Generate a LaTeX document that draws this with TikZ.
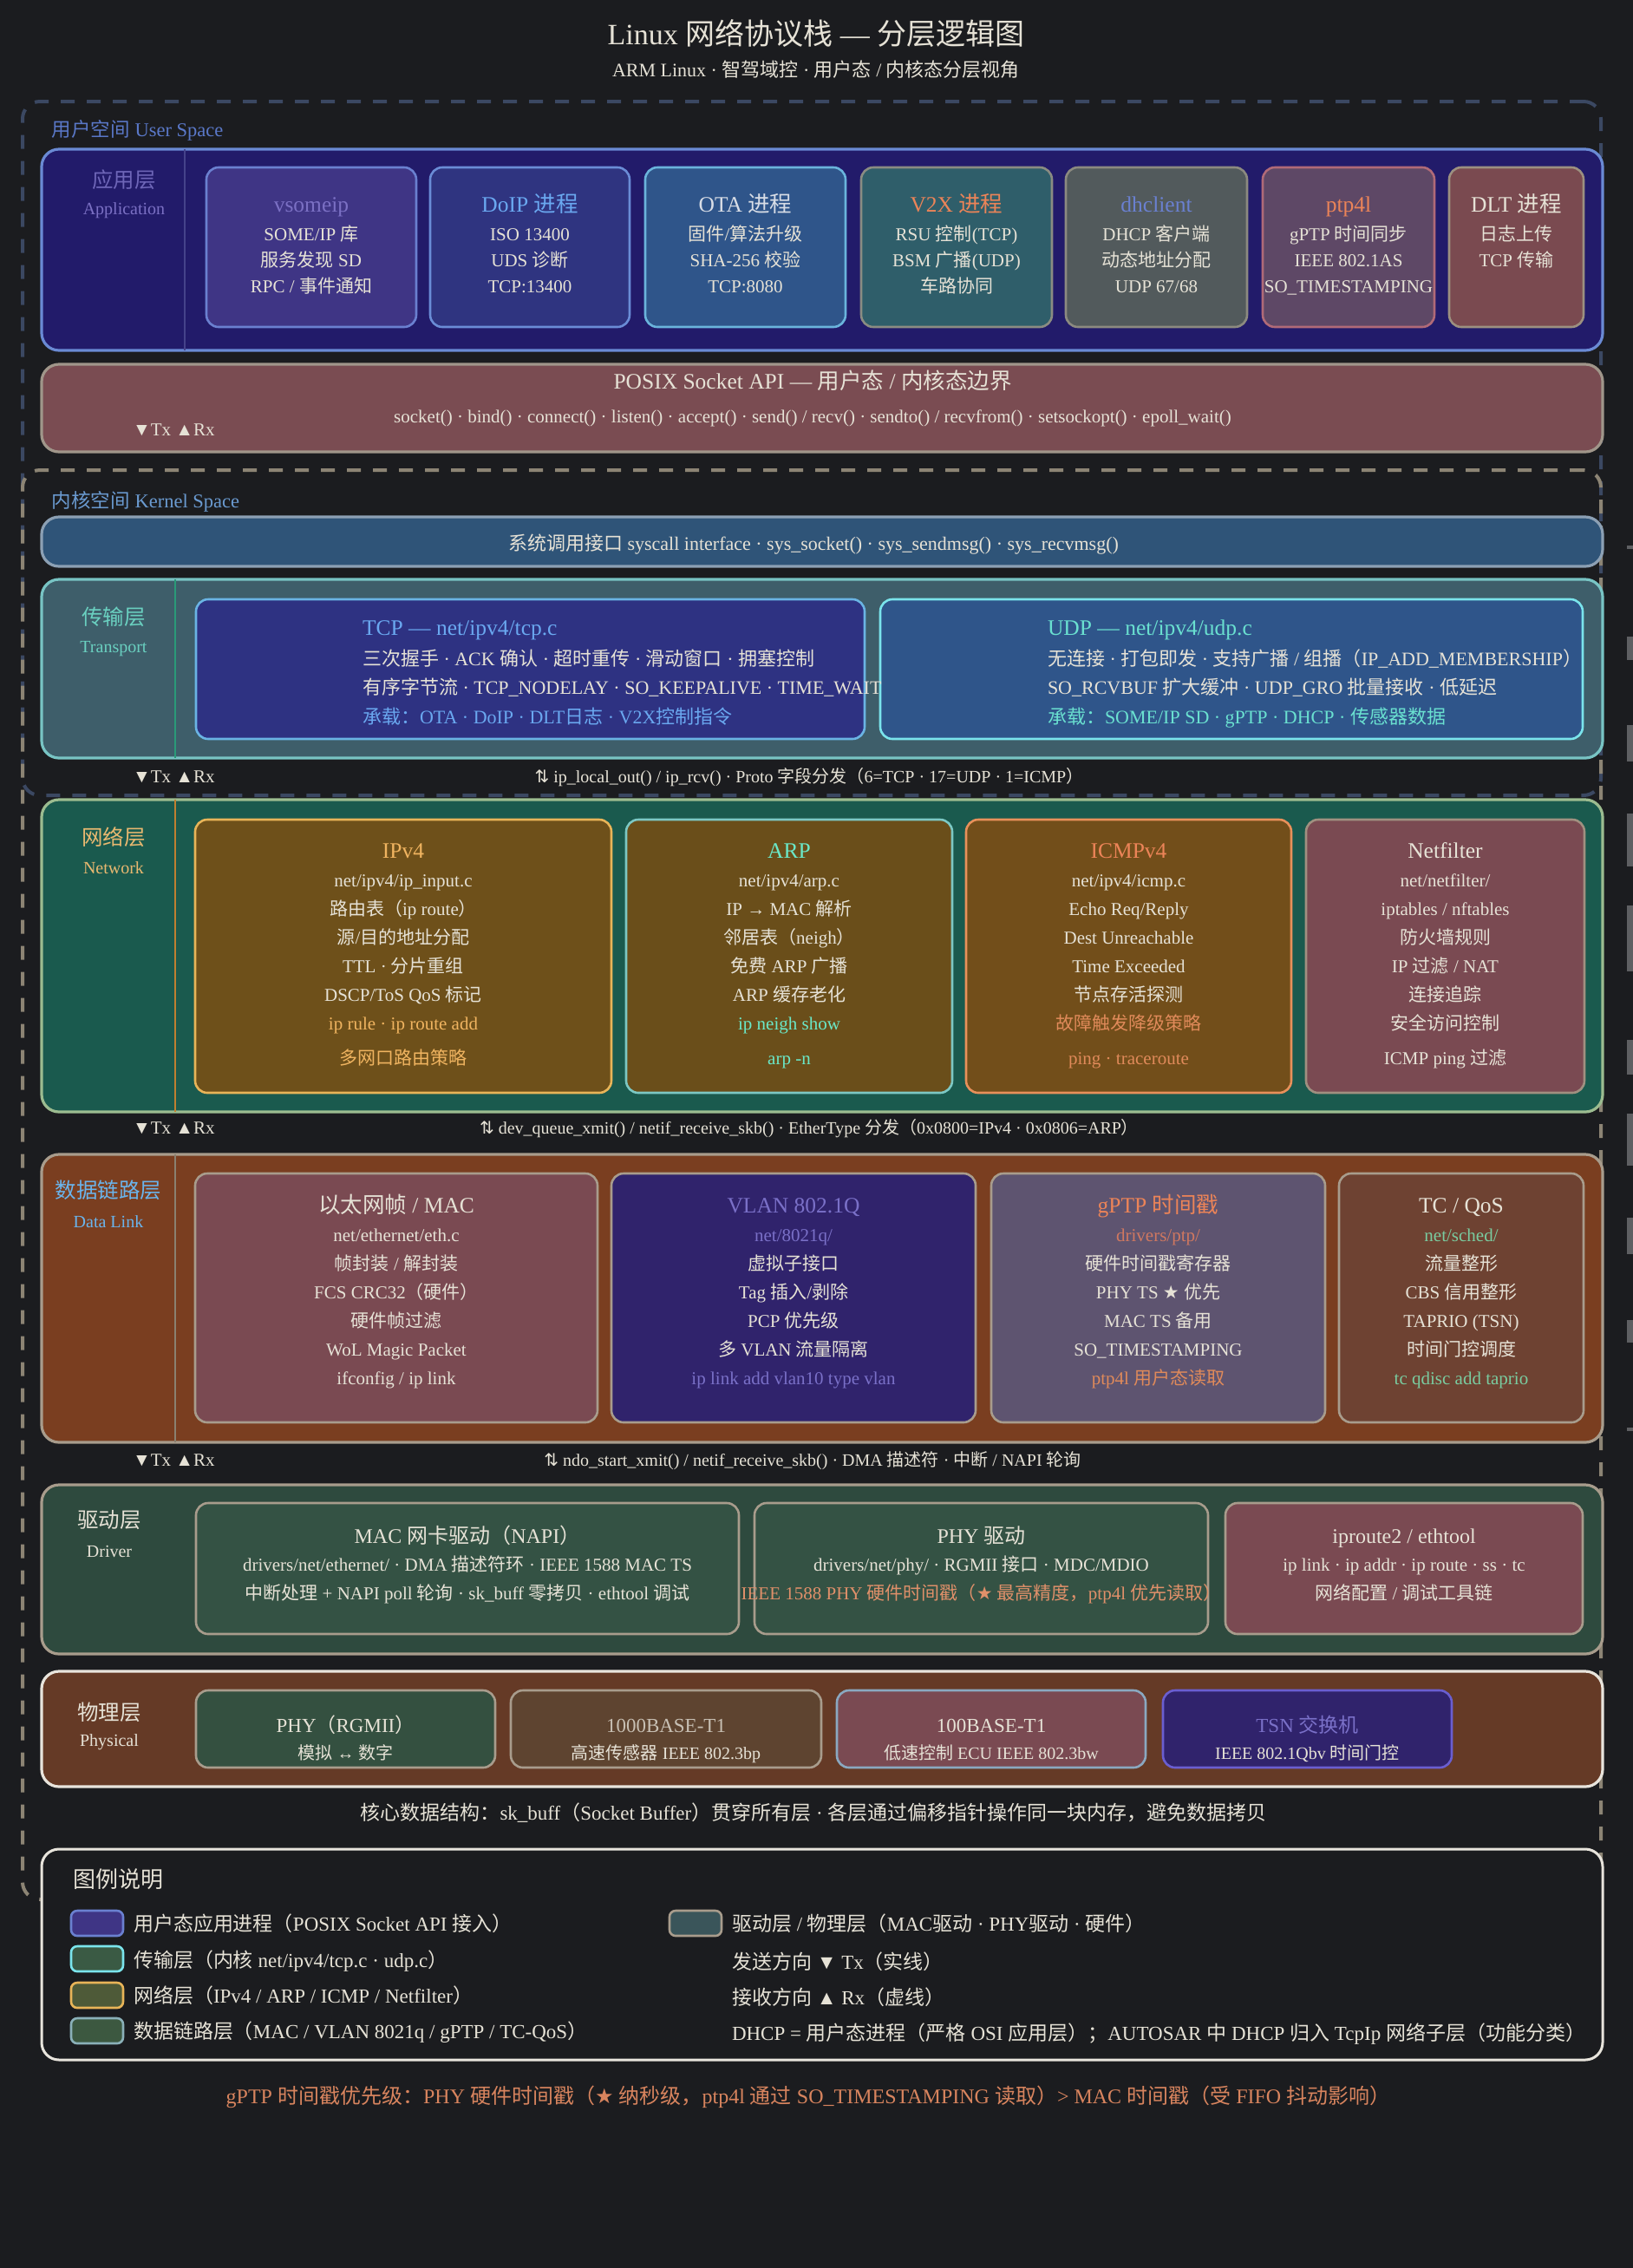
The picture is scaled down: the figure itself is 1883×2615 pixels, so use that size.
\documentclass[tikz,border=0pt]{standalone}
\usepackage{fontspec}
\setmainfont{Liberation Serif}
\newfontfamily\cjkf{Noto Sans CJK SC}
\newfontfamily\symf{DejaVu Sans}
\usetikzlibrary{calc}
% --- automatic CJK font switching ---
\XeTeXinterchartokenstate=1
\chardef\cjkcls=9
\newcount\cc
\cc=0 \loop \XeTeXcharclass\cc=0 \advance\cc 1 \ifnum\cc<"3000 \repeat
\cc="3000 \loop \XeTeXcharclass\cc=\cjkcls \advance\cc 1 \ifnum\cc<"3040 \repeat
\cc="4E00 \loop \XeTeXcharclass\cc=\cjkcls \advance\cc 1 \ifnum\cc<"A000 \repeat
\cc="FF00 \loop \XeTeXcharclass\cc=\cjkcls \advance\cc 1 \ifnum\cc<"FFF0 \repeat
\XeTeXinterchartoks 0 \cjkcls={\cjkf}
\XeTeXinterchartoks 4095 \cjkcls={\cjkf}
\XeTeXinterchartoks \cjkcls 0={\rmfamily}
\XeTeXinterchartoks \cjkcls 4095={\rmfamily}
% --- colours ---
\definecolor{bg}{HTML}{1B1C1F}
\definecolor{cTxt}{HTML}{E6E2D6}
\definecolor{cUser}{HTML}{3B4862}
\definecolor{cKern}{HTML}{8C8474}
\definecolor{cUserT}{HTML}{5A78C8}
\definecolor{cKernT}{HTML}{6A9AD0}
\definecolor{appF}{HTML}{221B6A}
\definecolor{appB}{HTML}{6A8AD4}
\definecolor{appDiv}{HTML}{45438A}
\definecolor{appL}{HTML}{6E66B8}
\definecolor{vsF}{HTML}{3F3585}
\definecolor{vsB}{HTML}{6A80D0}
\definecolor{vsT}{HTML}{7B70C4}
\definecolor{doF}{HTML}{2F3480}
\definecolor{doB}{HTML}{6A8CD6}
\definecolor{doT}{HTML}{6AA8F0}
\definecolor{otF}{HTML}{2F558A}
\definecolor{otB}{HTML}{6AB4DC}
\definecolor{otT}{HTML}{D8DDE6}
\definecolor{v2F}{HTML}{2F5E6A}
\definecolor{v2B}{HTML}{8A8C82}
\definecolor{orT}{HTML}{EC8458}
\definecolor{dhF}{HTML}{525A5C}
\definecolor{dhB}{HTML}{8C8A80}
\definecolor{dhT}{HTML}{6A80D0}
\definecolor{ptF}{HTML}{5E4866}
\definecolor{ptB}{HTML}{B06A78}
\definecolor{dlF}{HTML}{7A4A50}
\definecolor{dlB}{HTML}{9C9080}
\definecolor{sockF}{HTML}{7A4C52}
\definecolor{sockB}{HTML}{A0968A}
\definecolor{sysF}{HTML}{2F5478}
\definecolor{sysB}{HTML}{8CA0B4}
\definecolor{trF}{HTML}{3E5E6A}
\definecolor{trB}{HTML}{78C4C4}
\definecolor{trDiv}{HTML}{2A9A78}
\definecolor{trL}{HTML}{6AD0C0}
\definecolor{tcpF}{HTML}{2E3282}
\definecolor{tcpB}{HTML}{6AB4E4}
\definecolor{tcpT}{HTML}{6AA8F0}
\definecolor{udpF}{HTML}{2F558A}
\definecolor{udpB}{HTML}{7AE4EC}
\definecolor{udpT}{HTML}{6AE0D0}
\definecolor{nwF}{HTML}{1A5A4E}
\definecolor{nwB}{HTML}{9CBC90}
\definecolor{nwDiv}{HTML}{C08030}
\definecolor{nwL}{HTML}{E8B870}
\definecolor{ipF}{HTML}{6E501A}
\definecolor{ipB}{HTML}{E8B458}
\definecolor{ipT}{HTML}{F0B460}
\definecolor{arF}{HTML}{6A4E1A}
\definecolor{arB}{HTML}{7CC8C4}
\definecolor{arT}{HTML}{6AE8C8}
\definecolor{icF}{HTML}{724E1A}
\definecolor{icB}{HTML}{E8905A}
\definecolor{icO}{HTML}{E08A5A}
\definecolor{nfF}{HTML}{7A4A52}
\definecolor{nfB}{HTML}{A09080}
\definecolor{dkF}{HTML}{7A3E20}
\definecolor{dkB}{HTML}{A89C8C}
\definecolor{dkDiv}{HTML}{8A8070}
\definecolor{dkL}{HTML}{6AB4EC}
\definecolor{ethF}{HTML}{7A4A52}
\definecolor{vlF}{HTML}{30236C}
\definecolor{vlT}{HTML}{7A70C8}
\definecolor{gpF}{HTML}{5E5470}
\definecolor{gpS}{HTML}{D07860}
\definecolor{tcF}{HTML}{6E4232}
\definecolor{tcT}{HTML}{7ACCA0}
\definecolor{drF}{HTML}{2E4A3E}
\definecolor{drsF}{HTML}{345244}
\definecolor{drO}{HTML}{E0906A}
\definecolor{phF}{HTML}{653A26}
\definecolor{phB}{HTML}{E8E4DC}
\definecolor{p1F}{HTML}{345040}
\definecolor{p2F}{HTML}{5E4430}
\definecolor{p2T}{HTML}{C8C0B4}
\definecolor{p3B}{HTML}{8AA8C0}
\definecolor{p4B}{HTML}{6A5ED0}
\definecolor{footO}{HTML}{D8845E}
\definecolor{sw2F}{HTML}{3A5A44}
\definecolor{sw3F}{HTML}{4E5A38}
\definecolor{sw4F}{HTML}{3C5840}
\definecolor{sw4B}{HTML}{8AB0B8}
\definecolor{sw5F}{HTML}{3A555A}
\definecolor{edgeG}{HTML}{5E5F62}
% --- helpers ---
\newcommand\mkbox[6]{\node[#2,anchor=north west,inner sep=0pt,outer sep=0pt,minimum width={(#5-#3)*0.5pt},minimum height={(#6-#4)*0.5pt}] (#1) at (#3,#4) {};}
\newcommand\mklines[6]{\foreach \tx [count=\ii] in {#6}{\node[t,#1] (#2-\ii) at ({#3},{#4+(\ii-1)*#5}) {\tx};}}
\begin{document}
\begin{tikzpicture}[x=0.5pt,y=-0.5pt,
  t/.style={anchor=base,inner sep=0pt,outer sep=0pt,text=cTxt},
  tw/.style={t,anchor=base west},
  fb/.style={font=\fontsize{10.5pt}{12pt}\selectfont},
  fbt/.style={font=\fontsize{11pt}{13pt}\selectfont},
  ft/.style={font=\fontsize{12.75pt}{15pt}\selectfont},
  fl/.style={font=\fontsize{12.25pt}{14pt}\selectfont},
  fsl/.style={font=\fontsize{10pt}{12pt}\selectfont},
  fc/.style={font=\fontsize{10pt}{12pt}\selectfont},
  lay/.style={draw,line width=1.6pt,rounded corners=10pt},
  sub/.style={draw,line width=1.3pt,rounded corners=7pt},
  dashbox/.style={draw,line width=2pt,dash pattern=on 8pt off 7pt,rounded corners=10pt},
  swatch/.style={draw,line width=1.3pt,rounded corners=3.5pt},
]
\fill[bg] (0,0) rectangle (1883,2615);
\useasboundingbox (0,0) rectangle (1883,2615);

% grey marks on the right edge
\foreach \ya/\yb in {629/633,734/761,836/878,938/999,1044/1120,1199/1239,1284/1344,1404/1446,1522/1548,1646/1650}
  \fill[edgeG] (1876,\ya) rectangle (1883,\yb);

% title
\node[t,font=\fontsize{17pt}{20pt}\selectfont] (title) at (941,51) {Linux 网络协议栈 — 分层逻辑图};
\node[t,font=\fontsize{11pt}{13pt}\selectfont] (subtitle) at (941,88) {ARM Linux · 智驾域控 · 用户态 / 内核态分层视角};

% dashed containers
\mkbox{userspace}{dashbox,draw=cUser}{26}{117}{1846}{917}
\mkbox{kernelspace}{dashbox,draw=cKern}{26}{542}{1846}{2190}
\node[tw,font=\fontsize{11.25pt}{13pt}\selectfont,text=cUserT] (ulabel) at (60,157) {用户空间 User Space};
\node[tw,font=\fontsize{11.25pt}{13pt}\selectfont,text=cKernT] (klabel) at (60,585) {内核空间 Kernel Space};

% ===== Application layer =====
\mkbox{app}{lay,fill=appF,draw=appB}{48}{172}{1848}{404}
\draw[appDiv,line width=1pt] (213,172) -- (213,404);
\node[t,fl,text=appL] (app-l1) at (143,216) {应用层};
\node[t,fsl,text=vsT] (app-l2) at (143,247) {Application};
\mkbox{vs}{sub,fill=vsF,draw=vsB}{238}{193}{480}{377}
\mkbox{doip}{sub,fill=doF,draw=doB}{496}{193}{726}{377}
\mkbox{ota}{sub,fill=otF,draw=otB}{744}{193}{975}{377}
\mkbox{v2x}{sub,fill=v2F,draw=v2B}{993}{193}{1213}{377}
\mkbox{dhc}{sub,fill=dhF,draw=dhB}{1229}{193}{1438}{377}
\mkbox{ptp}{sub,fill=ptF,draw=ptB}{1456}{193}{1654}{377}
\mkbox{dlt}{sub,fill=dlF,draw=dlB}{1671}{193}{1826}{377}
\node[t,ft,text=vsT] (vs-t) at (359,244) {vsomeip};
\mklines{fb}{vs}{359}{277}{30}{SOME/IP 库, 服务发现 SD, RPC / 事件通知}
\node[t,ft,text=doT] (doip-t) at (611,244) {DoIP 进程};
\mklines{fb}{doip}{611}{277}{30}{ISO 13400, UDS 诊断, TCP:13400}
\node[t,ft,text=otT] (ota-t) at (859.5,244) {OTA 进程};
\mklines{fb}{ota}{859.5}{277}{30}{固件/算法升级, SHA-256 校验, TCP:8080}
\node[t,ft,text=orT] (v2x-t) at (1103,244) {V2X 进程};
\mklines{fb}{v2x}{1103}{277}{30}{RSU 控制(TCP), BSM 广播(UDP), 车路协同}
\node[t,ft,text=dhT] (dhc-t) at (1333.5,244) {dhclient};
\mklines{fb}{dhc}{1333.5}{277}{30}{DHCP 客户端, 动态地址分配, UDP 67/68}
\node[t,ft,text=orT] (ptp-t) at (1555,244) {ptp4l};
\mklines{fb}{ptp}{1555}{277}{30}{gPTP 时间同步, IEEE 802.1AS, SO\_TIMESTAMPING}
\node[t,ft] (dlt-t) at (1748.5,244) {DLT 进程};
\mklines{fb}{dlt}{1748.5}{277}{30}{日志上传, TCP 传输}

% ===== POSIX socket =====
\mkbox{sock}{lay,fill=sockF,draw=sockB}{48}{420}{1848}{521}
\node[t,ft] (sock-t) at (937,448) {POSIX Socket API — 用户态 / 内核态边界};
\node[t,fb] (sock-1) at (937,487) {socket() · bind() · connect() · listen() · accept() · send() / recv() · sendto() / recvfrom() · setsockopt() · epoll\_wait()};
\node[tw,fb] (txrx0) at (153,502) {▼Tx ▲Rx};

% ===== syscall =====
\mkbox{sys}{lay,fill=sysF,draw=sysB}{48}{596}{1848}{653}
\node[t,fbt] (sys-t) at (938,634) {系统调用接口 syscall interface · sys\_socket() · sys\_sendmsg() · sys\_recvmsg()};

% ===== Transport =====
\mkbox{tr}{lay,fill=trF,draw=trB}{48}{668}{1848}{874}
\draw[trDiv,line width=1pt] (202,668) -- (202,874);
\node[t,fl,text=trL] (tr-l1) at (131,720) {传输层};
\node[t,fsl,text=trL] (tr-l2) at (131,752) {Transport};
\mkbox{tcp}{sub,fill=tcpF,draw=tcpB}{226}{691}{997}{852}
\mkbox{udp}{sub,fill=udpF,draw=udpB}{1015}{691}{1825}{852}
\node[tw,ft,text=tcpT] (tcp-t) at (418,732) {TCP — net/ipv4/tcp.c};
\node[tw,fbt] (tcp-1) at (418,767) {三次握手 · ACK 确认 · 超时重传 · 滑动窗口 · 拥塞控制};
\node[tw,fbt] (tcp-2) at (418,800) {有序字节流 · TCP\_NODELAY · SO\_KEEPALIVE · TIME\_WAIT};
\node[tw,fbt,text=tcpT] (tcp-3) at (418,834) {承载：OTA · DoIP · DLT日志 · V2X控制指令};
\node[tw,ft,text=udpT] (udp-t) at (1208,732) {UDP — net/ipv4/udp.c};
\node[tw,fbt] (udp-1) at (1208,767) {无连接 · 打包即发 · 支持广播 / 组播（IP\_ADD\_MEMBERSHIP）};
\node[tw,fbt] (udp-2) at (1208,800) {SO\_RCVBUF 扩大缓冲 · UDP\_GRO 批量接收 · 低延迟};
\node[tw,fbt,text=udpT] (udp-3) at (1208,834) {承载：SOME/IP SD · gPTP · DHCP · 传感器数据};

\node[tw,fb] (txrx1) at (153,902) {▼Tx ▲Rx};
\node[t,fc] (conn1) at (933,902) {{\symf ⇅} ip\_local\_out() / ip\_rcv() · Proto 字段分发（6=TCP · 17=UDP · 1=ICMP）};

% ===== Network =====
\mkbox{nw}{lay,fill=nwF,draw=nwB}{48}{922}{1848}{1282}
\draw[nwDiv,line width=1pt] (202,922) -- (202,1282);
\node[t,fl,text=nwL] (nw-l1) at (131,974) {网络层};
\node[t,fsl,text=nwL] (nw-l2) at (131,1007) {Network};
\mkbox{ipv4}{sub,fill=ipF,draw=ipB}{225}{945}{705}{1260}
\mkbox{arp}{sub,fill=arF,draw=arB}{722}{945}{1098}{1260}
\mkbox{icmp}{sub,fill=icF,draw=icB}{1114}{945}{1489}{1260}
\mkbox{nf}{sub,fill=nfF,draw=nfB}{1506}{945}{1827}{1260}
\node[t,ft,text=ipT] (ipv4-t) at (465,989) {IPv4};
\mklines{fb}{ipv4}{465}{1022}{33}{net/ipv4/ip\_input.c, 路由表（ip route）, 源/目的地址分配, TTL · 分片重组, DSCP/ToS QoS 标记, \color{ipT}ip rule · ip route add}
\node[t,fb,text=ipT] (ipv4-7) at (465,1227) {多网口路由策略};
\node[t,ft,text=arT] (arp-t) at (910,989) {ARP};
\mklines{fb}{arp}{910}{1022}{33}{net/ipv4/arp.c, IP → MAC 解析, 邻居表（neigh）, 免费 ARP 广播, ARP 缓存老化, \color{arT}ip neigh show}
\node[t,fb,text=arT] (arp-7) at (910,1227) {arp -n};
\node[t,ft,text=orT] (icmp-t) at (1301.5,989) {ICMPv4};
\mklines{fb}{icmp}{1301.5}{1022}{33}{net/ipv4/icmp.c, Echo Req/Reply, Dest Unreachable, Time Exceeded, 节点存活探测, \color{icO}故障触发降级策略}
\node[t,fb,text=icO] (icmp-7) at (1301.5,1227) {ping · traceroute};
\node[t,ft] (nf-t) at (1666.5,989) {Netfilter};
\mklines{fb}{nf}{1666.5}{1022}{33}{net/netfilter/, iptables / nftables, 防火墙规则, IP 过滤 / NAT, 连接追踪, 安全访问控制}
\node[t,fb] (nf-7) at (1666.5,1227) {ICMP ping 过滤};

\node[tw,fb] (txrx2) at (153,1307) {▼Tx ▲Rx};
\node[t,fc] (conn2) at (933,1307) {{\symf ⇅} dev\_queue\_xmit() / netif\_receive\_skb() · EtherType 分发（0x0800=IPv4 · 0x0806=ARP）};

% ===== Data link =====
\mkbox{dk}{lay,fill=dkF,draw=dkB}{48}{1331}{1848}{1663}
\draw[dkDiv,line width=1pt] (202,1331) -- (202,1663);
\node[t,fl,text=dkL] (dk-l1) at (125,1381) {数据链路层};
\node[t,fsl,text=dkL] (dk-l2) at (125,1415) {Data Link};
\mkbox{eth}{sub,fill=ethF,draw=dkB}{225}{1353}{689}{1640}
\mkbox{vlan}{sub,fill=vlF,draw=dkB}{705}{1353}{1125}{1640}
\mkbox{gptp}{sub,fill=gpF,draw=dkB}{1143}{1353}{1528}{1640}
\mkbox{tcq}{sub,fill=tcF,draw=dkB}{1544}{1353}{1826}{1640}
\node[t,ft] (eth-t) at (457,1398) {以太网帧 / MAC};
\mklines{fb}{eth}{457}{1431}{33}{net/ethernet/eth.c, 帧封装 / 解封装, FCS CRC32（硬件）, 硬件帧过滤, WoL Magic Packet, ifconfig / ip link}
\node[t,ft,text=vlT] (vlan-t) at (915,1398) {VLAN 802.1Q};
\mklines{fb}{vlan}{915}{1431}{33}{\color{vlT}net/8021q/, 虚拟子接口, Tag 插入/剥除, PCP 优先级, 多 VLAN 流量隔离, \color{vlT}ip link add vlan10 type vlan}
\node[t,ft,text=orT] (gptp-t) at (1335.5,1398) {gPTP 时间戳};
\mklines{fb}{gptp}{1335.5}{1431}{33}{\color{gpS}drivers/ptp/, 硬件时间戳寄存器, PHY TS {\symf ★} 优先, MAC TS 备用, SO\_TIMESTAMPING, \color{icO}ptp4l 用户态读取}
\node[t,ft] (tcq-t) at (1685,1398) {TC / QoS};
\mklines{fb}{tcq}{1685}{1431}{33}{\color{tcT}net/sched/, 流量整形, CBS 信用整形, TAPRIO (TSN), 时间门控调度, \color{tcT}tc qdisc add taprio}

\node[tw,fb] (txrx3) at (153,1690) {▼Tx ▲Rx};
\node[t,fc] (conn3) at (937,1690) {{\symf ⇅} ndo\_start\_xmit() / netif\_receive\_skb() · DMA 描述符 · 中断 / NAPI 轮询};

% ===== Driver =====
\mkbox{drv}{lay,fill=drF,draw=dkB}{48}{1712}{1848}{1907}
\node[t,fl] (drv-l1) at (126,1761) {驱动层};
\node[t,fsl] (drv-l2) at (126,1795) {Driver};
\mkbox{macd}{sub,fill=drsF,draw=dkB}{226}{1733}{852}{1884}
\mkbox{phyd}{sub,fill=drsF,draw=dkB}{870}{1733}{1393}{1884}
\mkbox{iprt}{sub,fill=nfF,draw=dkB}{1413}{1733}{1825}{1884}
\node[t,font=\fontsize{12pt}{14pt}\selectfont] (macd-t) at (539,1779) {MAC 网卡驱动（NAPI）};
\mklines{fb}{macd}{539}{1811}{33}{drivers/net/ethernet/ · DMA 描述符环 · IEEE 1588 MAC TS, 中断处理 + NAPI poll 轮询 · sk\_buff 零拷贝 · ethtool 调试}
\node[t,font=\fontsize{12pt}{14pt}\selectfont] (phyd-t) at (1131.5,1779) {PHY 驱动};
\node[t,fb] (phyd-1) at (1131.5,1811) {drivers/net/phy/ · RGMII 接口 · MDC/MDIO};
\node[t,fb,text=drO] (phyd-2) at (1131.5,1844) {IEEE 1588 PHY 硬件时间戳（{\symf ★} 最高精度，ptp4l 优先读取）};
\node[t,font=\fontsize{12pt}{14pt}\selectfont] (iprt-t) at (1619,1779) {iproute2 / ethtool};
\mklines{fb}{iprt}{1619}{1811}{33}{ip link · ip addr · ip route · ss · tc, 网络配置 / 调试工具链}

% ===== Physical =====
\mkbox{phy}{lay,fill=phF,draw=phB}{48}{1927}{1848}{2060}
\node[t,fl] (phy-l1) at (126,1983) {物理层};
\node[t,fsl] (phy-l2) at (126,2013) {Physical};
\mkbox{rgmii}{sub,fill=p1F,draw=dkB}{226}{1949}{571}{2038}
\mkbox{gbt}{sub,fill=p2F,draw=dkB}{589}{1949}{947}{2038}
\mkbox{hbt}{sub,fill=nfF,draw=p3B}{965}{1949}{1321}{2038}
\mkbox{tsn}{sub,fill=vlF,draw=p4B}{1341}{1949}{1674}{2038}
\node[t,font=\fontsize{11.5pt}{13pt}\selectfont] (rgmii-t) at (398.5,1997) {PHY（RGMII）};
\node[t,fsl] (rgmii-1) at (398.5,2028) {模拟 ↔ 数字};
\node[t,font=\fontsize{11.5pt}{13pt}\selectfont,text=p2T] (gbt-t) at (768,1997) {1000BASE-T1};
\node[t,fsl] (gbt-1) at (768,2028) {高速传感器 IEEE 802.3bp};
\node[t,font=\fontsize{11.5pt}{13pt}\selectfont] (hbt-t) at (1143,1997) {100BASE-T1};
\node[t,fsl] (hbt-1) at (1143,2028) {低速控制 ECU IEEE 802.3bw};
\node[t,font=\fontsize{11.5pt}{13pt}\selectfont,text=vlT] (tsn-t) at (1507.5,1997) {TSN 交换机};
\node[t,fsl] (tsn-1) at (1507.5,2028) {IEEE 802.1Qbv 时间门控};

\node[t,font=\fontsize{11.5pt}{13pt}\selectfont] (skb) at (938,2098) {核心数据结构：sk\_buff（Socket Buffer）贯穿所有层 · 各层通过偏移指针操作同一块内存，避免数据拷贝};

% ===== Legend =====
\mkbox{legend}{draw=phB,line width=1.5pt,rounded corners=10pt,fill=bg}{48}{2132}{1848}{2375}
\node[tw,font=\fontsize{13pt}{15pt}\selectfont] (leg-t) at (84,2176) {图例说明};
\mkbox{sw1}{swatch,fill=vsF,draw=vsB}{82}{2203}{142}{2232}
\mkbox{sw2}{swatch,fill=sw2F,draw=udpB}{82}{2244}{142}{2273}
\mkbox{sw3}{swatch,fill=sw3F,draw=ipB}{82}{2286}{142}{2315}
\mkbox{sw4}{swatch,fill=sw4F,draw=sw4B}{82}{2327}{142}{2356}
\mkbox{sw5}{swatch,fill=sw5F,draw=dkB}{772}{2203}{832}{2232}
\node[tw,font=\fontsize{11.5pt}{13pt}\selectfont] (leg-1) at (154,2226) {用户态应用进程（POSIX Socket API 接入）};
\node[tw,font=\fontsize{11.5pt}{13pt}\selectfont] (leg-2) at (154,2268) {传输层（内核 net/ipv4/tcp.c · udp.c）};
\node[tw,font=\fontsize{11.5pt}{13pt}\selectfont] (leg-3) at (154,2309) {网络层（IPv4 / ARP / ICMP / Netfilter）};
\node[tw,font=\fontsize{11.5pt}{13pt}\selectfont] (leg-4) at (154,2350) {数据链路层（MAC / VLAN 8021q / gPTP / TC-QoS）};
\node[tw,font=\fontsize{11.5pt}{13pt}\selectfont] (leg-5) at (844,2226) {驱动层 / 物理层（MAC驱动 · PHY驱动 · 硬件）};
\node[tw,font=\fontsize{11.5pt}{13pt}\selectfont] (leg-6) at (844,2270) {发送方向 ▼ Tx（实线）};
\node[tw,font=\fontsize{11.5pt}{13pt}\selectfont] (leg-7) at (844,2311) {接收方向 ▲ Rx（虚线）};
\node[tw,font=\fontsize{11.5pt}{13pt}\selectfont] (leg-8) at (844,2352) {DHCP = 用户态进程（严格 OSI 应用层）；AUTOSAR 中 DHCP 归入 TcpIp 网络子层（功能分类）};

\node[t,font=\fontsize{12pt}{14pt}\selectfont,text=footO] (foot) at (932,2425) {gPTP 时间戳优先级：PHY 硬件时间戳（{\symf ★} 纳秒级，ptp4l 通过 SO\_TIMESTAMPING 读取）> MAC 时间戳（受 FIFO 抖动影响）};
\end{tikzpicture}
\end{document}
